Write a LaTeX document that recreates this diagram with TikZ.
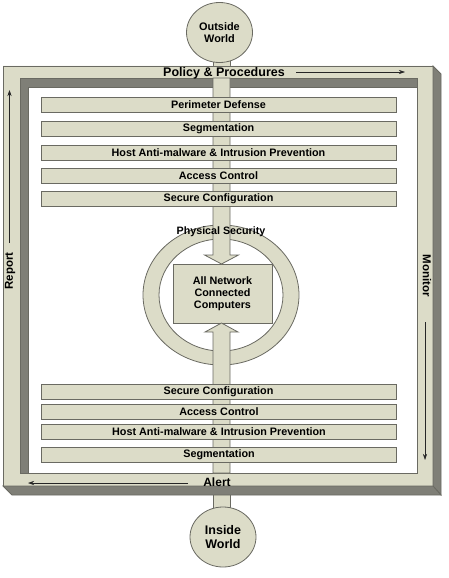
\documentclass[tikz,border=0pt]{standalone}
\usepackage{fontspec}
\setmainfont{Liberation Sans}
\usetikzlibrary{shapes.geometric,arrows.meta}
\definecolor{beige}{HTML}{DCDCC8}
\definecolor{shade}{HTML}{7F7F77}
\definecolor{edge}{HTML}{6A6A62}
\tikzset{
 body/.style={fill=beige, draw=edge, line width=0.8pt},
 layer/.style={body, minimum width=355pt, minimum height=15pt, inner sep=0pt, font=\fontsize{10.8}{12}\selectfont\bfseries},
 world/.style={body, ellipse, minimum width=66pt, minimum height=60pt, inner sep=0pt, align=center},
 framelbl/.style={inner sep=0pt, font=\fontsize{12}{14}\selectfont\bfseries},
 flow/.style={draw=black!85, line width=0.6pt, -{Stealth[length=6pt,width=4pt]}},
}
\begin{document}
\begin{tikzpicture}[x=1pt,y=-1pt]
\useasboundingbox (0,0) rectangle (449,578);
% stems outside the frame
\path[body] (213,50) rectangle (230,70);
\path[body] (213,480) rectangle (230,515);
% frame
\path[body, even odd rule] (3,66) rectangle (433,486) (20,78) rectangle (417,473);
\path[fill=shade, draw=edge, line width=0.8pt] (433,66) -- (441,74) -- (441,495) -- (433,486) -- cycle;
\path[fill=shade, draw=edge, line width=0.8pt] (3,486) -- (433,486) -- (441,495) -- (12,495) -- cycle;
\path[fill=shade, draw=edge, line width=0.8pt] (20,78) -- (417,78) -- (417,87) -- (28,87) -- (28,473) -- (20,473) -- cycle;
% worlds
\node[world, font=\fontsize{10.9}{11.7}\selectfont\bfseries] (out) at (219.5,32.5) {Outside\\World};
\node[world, font=\fontsize{12.5}{13.3}\selectfont\bfseries] (in) at (223,537) {Inside\\World};
% ring
\path[body, even odd rule] (221,295) ellipse [x radius=78, y radius=70] (221,295) ellipse [x radius=62, y radius=56];
% central box
\node[body, minimum width=99pt, minimum height=59pt, inner sep=0pt, align=center, font=\fontsize{10.8}{12}\selectfont\bfseries] (pc) at (222.5,293.5) {All Network\\Connected\\Computers};
% block arrows
\path[body] (213,78) -- (230,78) -- (230,255) -- (238.5,255) -- (221.5,264) -- (204.5,255) -- (213,255) -- cycle;
\path[body] (213,473) -- (213,332) -- (205,332) -- (221.5,323) -- (238,332) -- (230,332) -- (230,473) -- cycle;
% layers
\node[layer] (l1) at (218.5,105) {Perimeter Defense};
\node[layer] (l2) at (218.5,128.5) {Segmentation};
\node[layer] (l3) at (218.5,152.5) {Host Anti-malware \& Intrusion Prevention};
\node[layer] (l4) at (218.5,175.5) {Access Control};
\node[layer] (l5) at (218.5,198.5) {Secure Configuration};
\node[layer] (b1) at (218.5,391.5) {Secure Configuration};
\node[layer] (b2) at (219,411.5) {Access Control};
\node[layer] (b3) at (219,431.5) {Host Anti-malware \& Intrusion Prevention};
\node[layer] (b4) at (219,454.5) {Segmentation};
\node[inner sep=0pt, font=\fontsize{10.7}{12}\selectfont\bfseries] (phys) at (221,232) {Physical Security};
% frame labels
\node[framelbl, font=\fontsize{12.5}{14}\selectfont\bfseries] (pol) at (224,73) {Policy \& Procedures};
\node[framelbl, font=\fontsize{11.5}{14}\selectfont\bfseries, rotate=90] (rep) at (10,271) {Report};
\node[framelbl, font=\fontsize{11.5}{14}\selectfont\bfseries, rotate=-90] (mon) at (427,276) {Monitor};
\node[framelbl] (alr) at (217,482) {Alert};
% flow arrows
\coordinate (p1) at (296,72); \coordinate (p2) at (405,72);
\coordinate (r1) at (9.5,243); \coordinate (r2) at (9.5,90);
\coordinate (m1) at (425,322); \coordinate (m2) at (425,460);
\coordinate (a1) at (188,483); \coordinate (a2) at (28,483);
\draw[flow] (p1) -- (p2);
\draw[flow] (r1) -- (r2);
\draw[flow] (m1) -- (m2);
\draw[flow] (a1) -- (a2);
\end{tikzpicture}
\end{document}
